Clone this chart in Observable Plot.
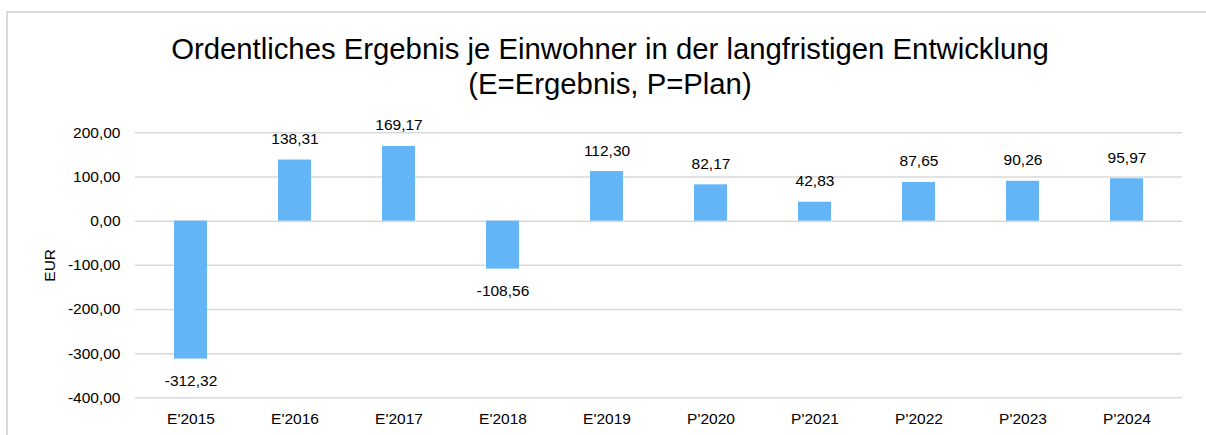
<!DOCTYPE html>
<html><head><meta charset="utf-8">
<script src="https://cdn.jsdelivr.net/npm/d3@7"></script>
<script src="https://cdn.jsdelivr.net/npm/@observablehq/plot@0.6"></script>
<style>
body{margin:0;width:1206px;height:435px;overflow:hidden;background:#fff;font-family:"Liberation Sans",Arial,sans-serif;position:relative}
#frame{position:absolute;left:6px;top:11px;width:1300px;height:600px;border:2px solid #d9d9d9;box-sizing:border-box}
#title{position:absolute;left:0;top:31px;width:1220px;text-align:center;font-size:29.3px;line-height:35px;color:#000;white-space:nowrap}
#chart{position:absolute;left:0;top:100px}
</style></head><body>
<div id="frame"></div>
<div id="title">Ordentliches Ergebnis je Einwohner in der langfristigen Entwicklung<br>(E=Ergebnis, P=Plan)</div>
<div id="chart"></div>
<script>
const categories = ["E'2015","E'2016","E'2017","E'2018","E'2019","P'2020","P'2021","P'2022","P'2023","P'2024"];
const values = [-312.32, 138.31, 169.17, -108.56, 112.30, 82.17, 42.83, 87.65, 90.26, 95.97];
const yTicks = [-400, -300, -200, -100, 0, 100, 200];

const de = d3.formatLocale({decimal: ",", thousands: ".", grouping: [3], currency: ["", "€"], minus: "-"});
const fmt = de.format(".2f");
const data = categories.map((c, i) => ({cat: c, value: values[i]}));

const plot = Plot.plot({
  width: 1206, height: 335,
  marginLeft: 135, marginRight: 24, marginTop: 32.3, marginBottom: 37.7,
  style: {fontFamily: "Liberation Sans, Arial, sans-serif", fontSize: "15.5px", color: "#000", background: "transparent"},
  x: {domain: categories, paddingInner: 0.685, paddingOuter: 0.3425, label: null},
  y: {domain: [-400, 200], label: null},
  marks: [
    Plot.gridY(yTicks, {stroke: "#d9d9d9", strokeOpacity: 1, strokeWidth: 1.5}),
    Plot.barY(data, {x: "cat", y: "value", fill: "#64b5f6"}),
    Plot.text(data.filter(d => d.value >= 0), {x: "cat", y: "value", text: d => fmt(d.value), dy: -21, fontSize: 15.5}),
    Plot.text(data.filter(d => d.value < 0), {x: "cat", y: "value", text: d => fmt(d.value), dy: 22, fontSize: 15.5}),
    Plot.axisX({tickSize: 0, tickPadding: 15, label: null}),
    Plot.axisY(yTicks, {tickSize: 0, tickPadding: 15, tickFormat: fmt, label: "EUR", labelAnchor: "center", labelOffset: 92, labelArrow: "none"})
  ]
});
document.getElementById("chart").appendChild(plot);
</script>
</body></html>
